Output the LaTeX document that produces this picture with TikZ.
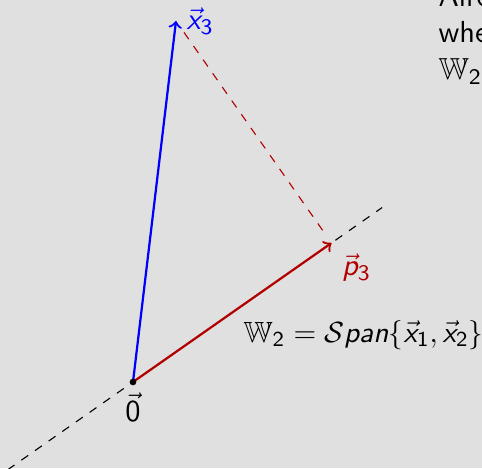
\documentclass[tikz,border=0pt,11pt]{standalone}
\usepackage{amssymb}
\usetikzlibrary{calc}
\renewcommand{\familydefault}{\sfdefault}
\DeclareMathAlphabet{\mathsfit}{OT1}{cmss}{m}{sl}
\newcommand{\sv}[1]{\vec{\mathsfit{#1}}}
\definecolor{bg}{HTML}{E0E0E0}
\colorlet{projred}{red!70!black}
\tikzset{
  axis/.style={dashed},
  vecb/.style={->, thick, blue},
  vecr/.style={->, thick, projred},
  proj/.style={dashed, projred, shorten <=5pt, shorten >=4pt},
  txt/.style={inner sep=0pt, anchor=base west},
}

\begin{document}
\begin{tikzpicture}[x=0.36pt, y=0.36pt]
  \fill[bg] (0,0) rectangle (482,468);
  \useasboundingbox (0,0) rectangle (482,468);
  % points
  \coordinate (o) at (133,86);
  \coordinate (x3) at (176,447);
  \coordinate (p3) at (331.5,225);
  \coordinate (wa) at ($(o)!-0.7!(p3)$);
  \coordinate (wb) at ($(o)!1.255!(p3)$);
  % plane W2 and vectors
  \draw[axis] (wa) -- (wb);
  \draw[proj] (x3) -- (p3);
  \draw[vecb] (o) -- (x3);
  \draw[vecr] (o) -- (p3);
  \fill (o) circle (1.2pt);
  % labels
  \node[right, blue] (lx3) at (x3) {$\sv{x}_{\mathsf{3}}$};
  \node[below right, projred] (lp3) at (p3) {$\sv{p}_{\mathsf{3}}$};
  \node[below] (lo) at (o) {$\vec{\mathsf{0}}$};
  \node[txt, scale=0.96] (lw) at (243,126) {$\mathbb{W}_{\mathsf{2}} = \mathcal{S}\mathsfit{pan}\{\sv{x}_{\mathsf{1}}, \sv{x}_{\mathsf{2}}\}$};
  % text of the slide, cut at the edge
  \node[txt] (ta) at (438,461) {Alre};
  \node[txt] (tb) at (438,425) {whe};
  \node[txt] (tc) at (438,388) {$\mathbb{W}_{\mathsf{2}}$};
\end{tikzpicture}
\end{document}
